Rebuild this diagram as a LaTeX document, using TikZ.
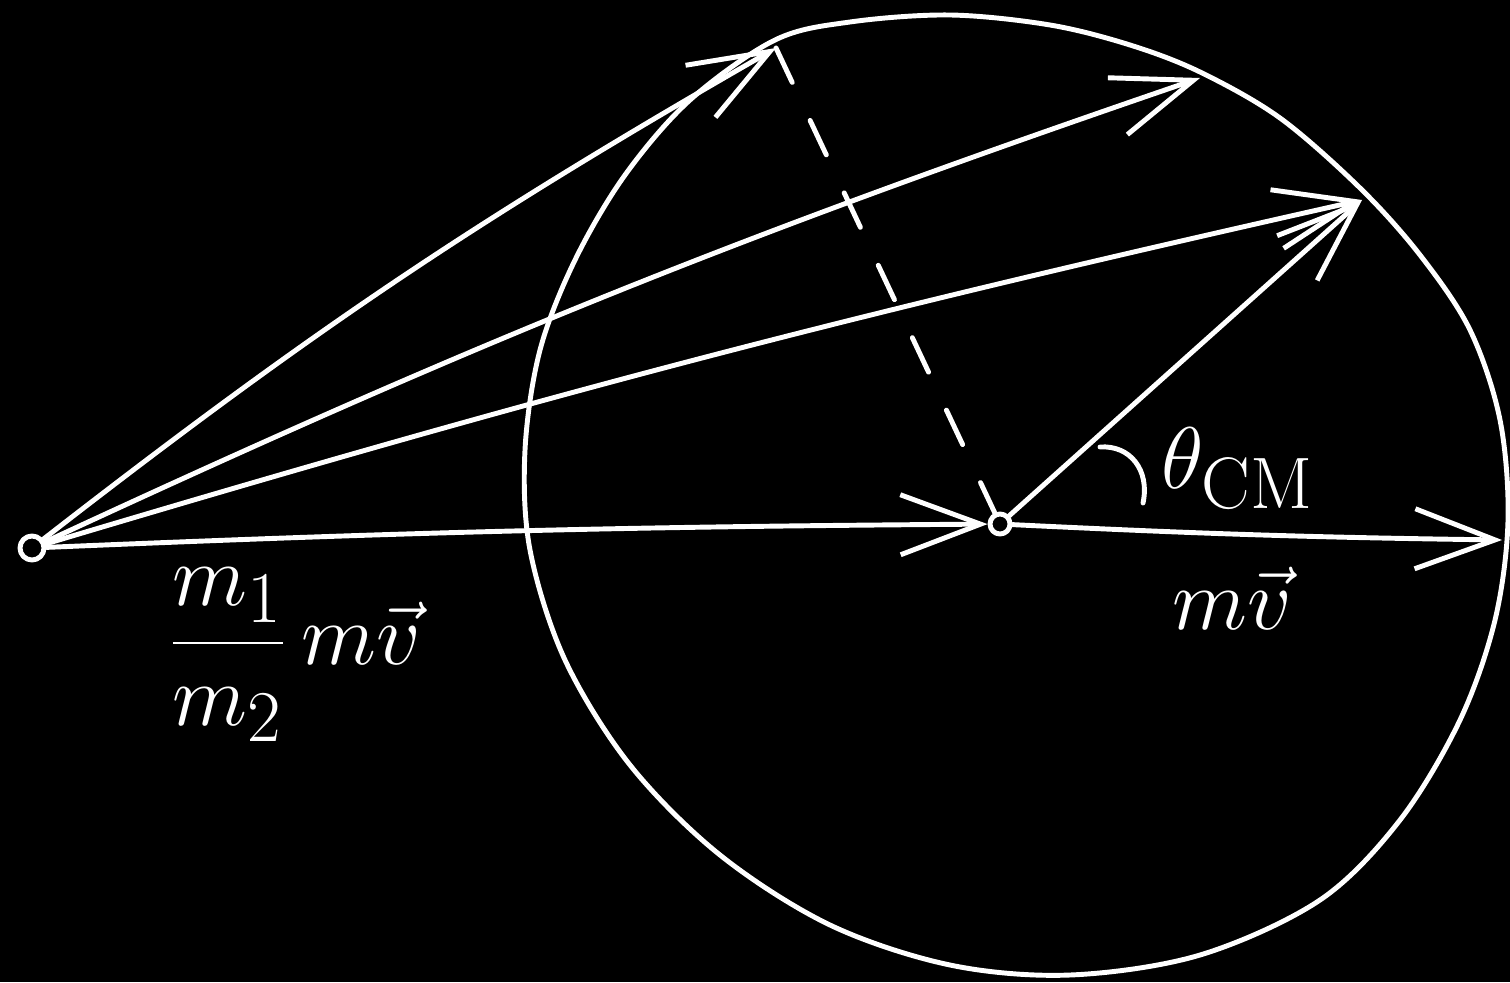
\documentclass[tikz,border=0pt]{standalone}
\usetikzlibrary{arrows.meta}
\begin{document}
\begin{tikzpicture}[x=0.01cm,y=-0.01cm,
  ink/.style={draw=white,line width=1.4pt,line cap=round,line join=round},
  vec/.style={ink,-{Straight Barb[length=8mm,width=6mm,line width=1.4pt]}},
  dotnode/.style={ink,circle,inner sep=0pt,minimum size=0.2cm},
  lbl/.style={text=white,font=\fontsize{32}{38}\selectfont}]
\fill[black] (0,0) rectangle (1510,982);
\useasboundingbox (0,0) rectangle (1510,982);
% points
\node[dotnode,minimum size=0.24cm] (O) at (32,548) {};
\node[dotnode] (C) at (1000,524) {};
\coordinate (A1) at (776,48);
\coordinate (A2) at (1200,78);
\coordinate (A3) at (1362,200);
\coordinate (E) at (1502,540);
\coordinate (T1) at (1100,447);
\coordinate (T2) at (1143,503);
% circle
\draw[ink] plot[smooth cycle,tension=0.55] coordinates {
 (775,40) (850,22) (950,15) (1050,25) (1130,45) (1200,72) (1280,118)
 (1360,188) (1420,255) (1470,330) (1500,420) (1508,520) (1495,620)
 (1460,720) (1400,820) (1320,900) (1200,955) (1070,975) (950,965)
 (830,925) (720,855) (630,765) (565,660) (530,550) (525,450) (540,350)
 (575,260) (625,175) (690,100)};
% vectors
\draw[vec] (O) to[bend left=4] (A1);
\draw[vec] (O) to[bend left=3] (A2);
\draw[vec] (O) to[bend left=2] (A3);
\draw[vec] (O) to[bend left=1] (C);
\draw[vec] (C) to[bend right=1] (E);
\draw[vec] (C) -- (A3);
\draw[ink,dash pattern=on 0.38cm off 0.42cm] (A1) -- (C);
% angle
\draw[ink] (T1) .. controls (1130,445) and (1150,470) .. (T2);
% labels
\node[lbl] (th) at (1238,468) {$\theta_{\mathrm{CM}}$};
\node[lbl] (mv) at (1232,598) {$m\vec{v}$};
\node[lbl] (fr) at (295,655) {$\displaystyle\frac{m_1}{m_2}\,m\vec{v}$};
\end{tikzpicture}
\end{document}
